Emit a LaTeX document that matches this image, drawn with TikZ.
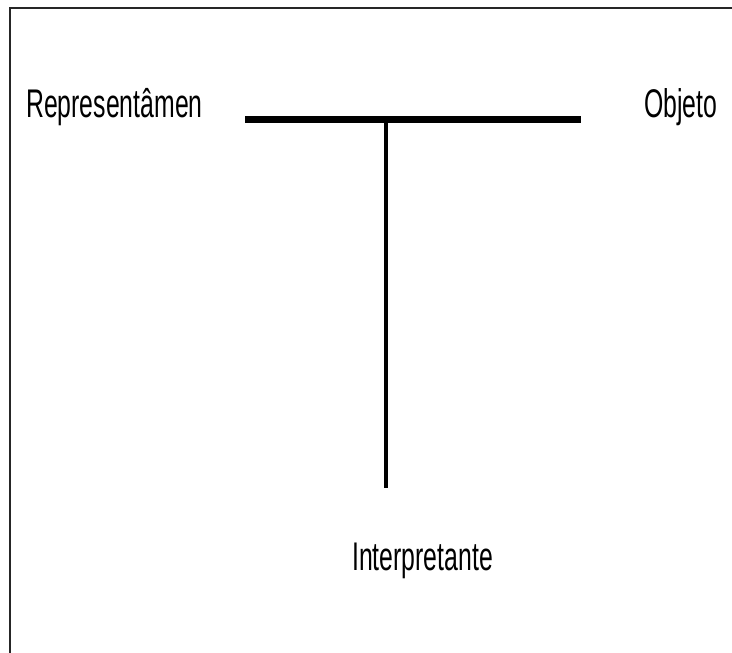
\documentclass[tikz,border=0pt]{standalone}
\usepackage{fontspec}
\newfontfamily\narrowsans[FakeStretch=0.62]{Liberation Sans}
\begin{document}
\begin{tikzpicture}[x=1pt,y=-1pt,
  lbl/.style={inner sep=0pt, anchor=base west, font=\narrowsans\fontsize{40}{44}\selectfont},
  frameline/.style={line width=2pt, black!85},
  bar/.style={line width=7pt},
  stem/.style={line width=4.5pt}]
\useasboundingbox (0,0) rectangle (732,653);
\draw[frameline] (10,653) -- (10,8) -- (732,8);
\node[lbl] (rep) at (26,117) {Representâmen};
\node[lbl] (obj) at (644,117) {Objeto};
\node[lbl] (int) at (352,570) {Interpretante};
\coordinate (barL) at (245,119);
\coordinate (barR) at (581,119);
\coordinate (stemT) at (386,119);
\coordinate (stemB) at (386,488);
\draw[bar] (barL) -- (barR);
\draw[stem] (stemT) -- (stemB);
\end{tikzpicture}
\end{document}
